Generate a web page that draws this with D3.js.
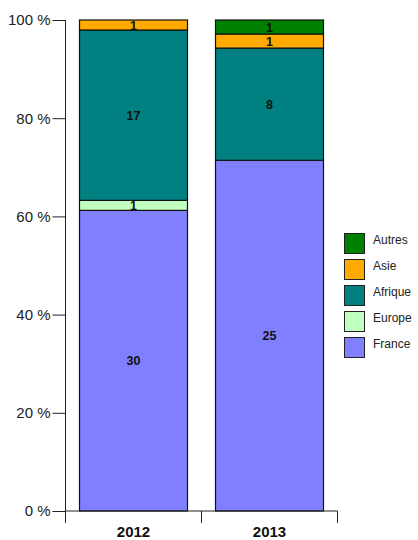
<!DOCTYPE html>
<html><head><meta charset="utf-8">
<script src="https://cdn.jsdelivr.net/npm/d3@7"></script>
<style>body{margin:0;background:#fff}svg{display:block}</style>
</head><body><svg id="c" width="418" height="540"></svg>
<script>
const years = ["2012", "2013"];
const seriesNames = ["France", "Europe", "Afrique", "Asie", "Autres"];
const France = [30, 25];
const Europe = [1, 0];
const Afrique = [17, 8];
const Asie = [1, 1];
const Autres = [0, 1];
const colors = ["#8080ff", "#c0ffc0", "#008080", "#ffaa00", "#008000"];
const yTicks = [0, 20, 40, 60, 80, 100];

const values = [France, Europe, Afrique, Asie, Autres];
const rows = years.map((y, i) => {
  const r = {year: y};
  seriesNames.forEach((s, k) => r[s] = values[k][i]);
  return r;
});
const totals = years.map((y, i) => d3.sum(values, v => v[i]));
const pct = rows.map((r, i) => {
  const o = {year: r.year};
  seriesNames.forEach(s => o[s] = r[s] / totals[i] * 100);
  return o;
});
const stack = d3.stack().keys(seriesNames)(pct);

const svg = d3.select("#c");
const x = d3.scaleBand().domain(years).range([65.5, 337.5]).paddingInner(0.206).paddingOuter(0.103);
const y = d3.scaleLinear().domain([0, 100]).range([511, 20]);

stack.forEach((layer, k) => {
  const g = svg.append("g");
  layer.forEach((d, i) => {
    const v = values[k][i];
    if (v === 0) return;
    g.append("rect")
      .attr("x", x(years[i]))
      .attr("y", y(d[1]))
      .attr("width", x.bandwidth())
      .attr("height", y(d[0]) - y(d[1]))
      .attr("fill", colors[k])
      .attr("stroke", "#111")
      .attr("stroke-width", 1.2);
  });
});
stack.forEach((layer, k) => {
  layer.forEach((d, i) => {
    const v = values[k][i];
    if (v === 0) return;
    svg.append("text")
      .attr("x", x(years[i]) + x.bandwidth() / 2)
      .attr("y", (y(d[0]) + y(d[1])) / 2)
      .attr("dy", "0.36em")
      .attr("text-anchor", "middle")
      .attr("font-family", "Liberation Sans, Arial, sans-serif")
      .attr("font-weight", "bold")
      .attr("font-size", 12.5)
      .attr("fill", "#111")
      .text(v);
  });
});

const yAxis = svg.append("g").attr("transform", "translate(65.5,0)")
  .call(d3.axisLeft(y).tickValues(yTicks).tickFormat(d => d + " %").tickSize(13).tickPadding(2));
yAxis.selectAll("text").attr("font-family", "Liberation Sans, Arial, sans-serif").attr("font-size", 15).attr("fill", "#222");
yAxis.select(".domain").attr("d", "M0," + y(100) + "V" + y(0)).attr("stroke", "#222");
yAxis.selectAll("line").attr("stroke", "#222");

const xAxis = svg.append("g").attr("transform", "translate(0,511)");
xAxis.append("line").attr("x1", 65.5).attr("x2", 337.5).attr("y1", 0).attr("y2", 0).attr("stroke", "#222");
const edges = [65.5, 201.5, 337.5];
edges.forEach(e => xAxis.append("line").attr("x1", e).attr("x2", e).attr("y1", 0).attr("y2", 12).attr("stroke", "#222"));
years.forEach(yr => xAxis.append("text")
  .attr("x", x(yr) + x.bandwidth() / 2).attr("y", 26)
  .attr("text-anchor", "middle")
  .attr("font-family", "Liberation Sans, Arial, sans-serif")
  .attr("font-weight", "bold").attr("font-size", 15).attr("fill", "#111")
  .text(yr));

const legend = svg.append("g");
const order = seriesNames.slice().reverse();
order.forEach((s, j) => {
  const k = seriesNames.indexOf(s);
  const ly = 233.5 + j * 26;
  legend.append("rect").attr("x", 344.5).attr("y", ly).attr("width", 20).attr("height", 20)
    .attr("fill", colors[k]).attr("stroke", "#222");
  legend.append("text").attr("x", 373).attr("y", ly + 9).attr("dy", "0.1em")
    .attr("font-family", "Liberation Sans, Arial, sans-serif").attr("font-size", 12).attr("fill", "#222")
    .text(s);
});
</script></body></html>
